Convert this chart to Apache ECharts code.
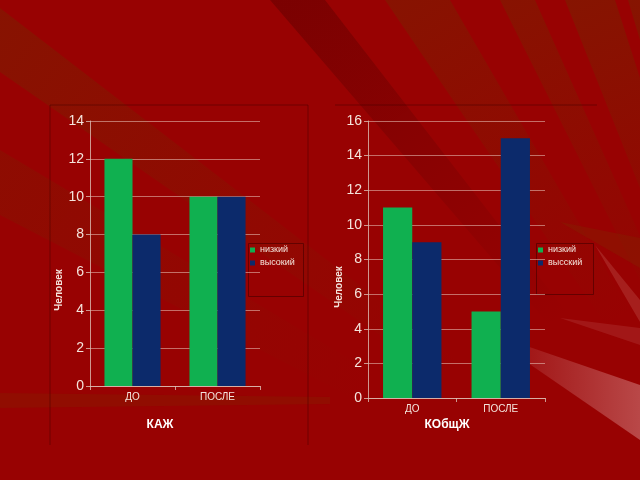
<!DOCTYPE html>
<html><head><meta charset="utf-8">
<script src="https://cdn.jsdelivr.net/npm/echarts@6/dist/echarts.min.js"></script>
<style>html,body{margin:0;padding:0;background:#980202}#c{width:640px;height:480px}</style>
</head><body><div id="c"></div>
<script>
const categories = ['ДО', 'ПОСЛЕ'];
const leftLow = [12, 10];
const leftHigh = [8, 10];
const rightLow = [11, 5];
const rightHigh = [9, 15];
const leftNames = ['низкий', 'высокий'];
const rightNames = ['низкий', 'высский'];
const leftTitle = 'КАЖ';
const rightTitle = 'КОбщЖ';
const yName = 'Человек';

const GREEN = '#10b050', BLUE = '#0c2a6b';
const txt = '#f4e4dc';
const font = '"Liberation Sans", Arial, sans-serif';

const F = [820, 640];
function ray(p1, p2, rgb, a, fade) {
  const sx = (p1[0] + p2[0]) / 2, sy = (p1[1] + p2[1]) / 2;
  const ex = sx + (F[0] - sx) * fade, ey = sy + (F[1] - sy) * fade;
  return { type: 'polygon', silent: true, z: -100, shape: { points: [p1, p2, F] },
    style: { fill: { type: 'linear', global: true, x: sx, y: sy, x2: ex, y2: ey, colorStops: [
      { offset: 0, color: 'rgba(' + rgb + ',' + a + ')' },
      { offset: 1, color: 'rgba(' + rgb + ',0)' }] } } };
}
function poly(pts, color) {
  return { type: 'polygon', silent: true, z: -100, shape: { points: pts }, style: { fill: color } };
}
const br = '120,35,0';
const bg = [
  ray([0, 8], [0, 72], br, 0.5, 0.55),
  ray([0, 150], [0, 215], br, 0.3, 0.45),
  ray([270, 0], [325, 0], '80,0,0', 0.4, 0.5),
  ray([385, 0], [450, 0], br, 0.5, 0.5),
  ray([500, 0], [535, 0], br, 0.5, 0.5),
  ray([565, 0], [615, 0], br, 0.55, 0.5),
  ray([628, 0], [640, 0], br, 0.55, 0.5),
  poly([[0,393],[0,408],[330,404],[330,397]], 'rgba(130,40,0,0.3)'),
  poly([[595,245],[640,300],[640,322]], 'rgba(255,210,200,0.14)'),
  poly([[560,222],[640,238],[640,268]], 'rgba(130,40,0,0.35)'),
  { type: 'polygon', silent: true, z: -99, shape: { points: [[480,330],[640,385],[640,440]] },
    style: { fill: { type: 'linear', x: 0, y: 0, x2: 1, y2: 0, colorStops: [
      { offset: 0, color: 'rgba(255,220,220,0)' }, { offset: 1, color: 'rgba(255,220,220,0.32)' }] } } },
  poly([[560,318],[640,328],[640,345]], 'rgba(255,220,220,0.1)')
];

const frames = [
  { type: 'polyline', silent: true, z: -50, shape: { points: [[50,445],[50,105],[308,105],[308,445]] },
    style: { stroke: 'rgba(70,0,0,0.5)', lineWidth: 1, fill: null } },
  { type: 'line', silent: true, z: -50, shape: { x1: 335, y1: 105, x2: 597, y2: 105 },
    style: { stroke: 'rgba(70,0,0,0.5)', lineWidth: 1 } },
  { type: 'rect', silent: true, z: -50, shape: { x: 248.5, y: 243.5, width: 55, height: 53 },
    style: { stroke: 'rgba(80,0,0,0.7)', fill: null, lineWidth: 1 } },
  { type: 'rect', silent: true, z: -50, shape: { x: 536.5, y: 243.5, width: 57, height: 51 },
    style: { stroke: 'rgba(80,0,0,0.7)', fill: null, lineWidth: 1 } },
  { type: 'text', x: 59, y: 290, rotation: Math.PI / 2, silent: true,
    style: { text: yName, fill: txt, font: 'bold 10px ' + font, align: 'center', verticalAlign: 'middle' } },
  { type: 'text', x: 339, y: 287, rotation: Math.PI / 2, silent: true,
    style: { text: yName, fill: txt, font: 'bold 10px ' + font, align: 'center', verticalAlign: 'middle' } }
];

function yAxis(grid, max) {
  return {
    type: 'value', gridIndex: grid, min: 0, max: max, interval: 2,
    axisLine: { show: true, lineStyle: { color: 'rgba(220,190,180,0.8)' } },
    axisTick: { show: true, length: 4, lineStyle: { color: 'rgba(220,190,180,0.8)' } },
    axisLabel: { color: txt, fontSize: 14, fontFamily: font, margin: 6 },
    splitLine: { show: true, lineStyle: { color: 'rgba(235,200,190,0.55)', width: 1 } }
  };
}
function xAxis(grid) {
  return {
    type: 'category', gridIndex: grid, data: categories,
    axisLine: { show: true, lineStyle: { color: 'rgba(220,190,180,0.8)' } },
    axisTick: { show: true, length: 4, lineStyle: { color: 'rgba(220,190,180,0.8)' } },
    axisLabel: { color: txt, fontSize: 10, fontFamily: font, margin: 6 }
  };
}
function bar(name, data, idx, color) {
  return { type: 'bar', name: name, data: data, xAxisIndex: idx, yAxisIndex: idx,
    barGap: '0%', barCategoryGap: '34%', itemStyle: { color: color }, animation: false };
}
function legend(names, left) {
  return { data: names, left: left, top: 245, orient: 'vertical', icon: 'rect',
    itemWidth: 5, itemHeight: 5, itemGap: 3, padding: [0, 0, 0, 0],
    textStyle: { color: txt, fontSize: 9, fontFamily: font, lineHeight: 10 } };
}

const chart = echarts.init(document.getElementById('c'), null, { renderer: 'canvas' });
chart.setOption({
  animation: false,
  backgroundColor: '#980202',
  graphic: { elements: bg.concat(frames) },
  title: [
    { text: leftTitle, left: 160, top: 419, textAlign: 'center', padding: 0,
      textStyle: { color: '#fff', fontSize: 12, fontWeight: 'bold', fontFamily: font } },
    { text: rightTitle, left: 447, top: 419, textAlign: 'center', padding: 0,
      textStyle: { color: '#fff', fontSize: 12, fontWeight: 'bold', fontFamily: font } }
  ],
  legend: [legend(leftNames, 250), legend(rightNames, 538)],
  grid: [
    { left: 90, top: 121, width: 170, height: 265 },
    { left: 368, top: 121, width: 177, height: 277 }
  ],
  xAxis: [xAxis(0), xAxis(1)],
  yAxis: [yAxis(0, 14), yAxis(1, 16)],
  series: [
    bar(leftNames[0], leftLow, 0, GREEN),
    bar(leftNames[1], leftHigh, 0, BLUE),
    bar(rightNames[0], rightLow, 1, GREEN),
    bar(rightNames[1], rightHigh, 1, BLUE)
  ]
});
</script></body></html>
